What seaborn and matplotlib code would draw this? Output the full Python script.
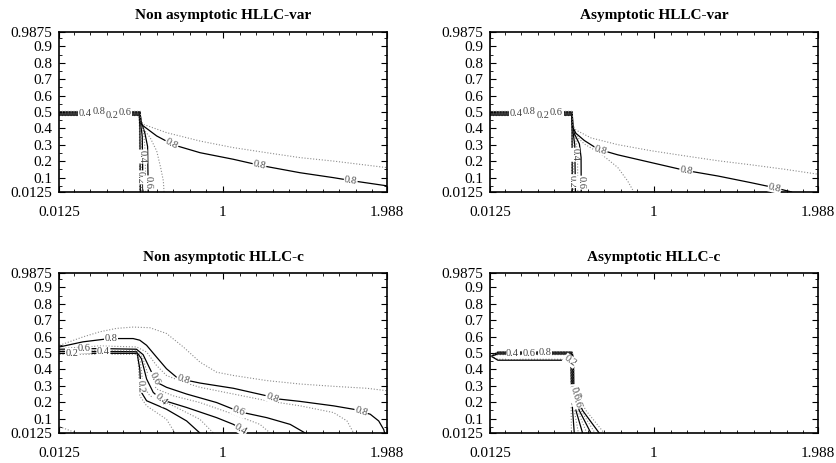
import numpy as np
import pandas as pd
import matplotlib
matplotlib.use("Agg")
import matplotlib.pyplot as plt
import seaborn as sns

titles = ["Non asymptotic HLLC-var", "Asymptotic HLLC-var",
          "Non asymptotic HLLC-c", "Asymptotic HLLC-c"]
x_ticks = [0.0125, 1, 1.988]
x_ticklabels = ["0.0125", "1", "1.988"]
y_ticks = [0.0125, 0.1, 0.2, 0.3, 0.4, 0.5, 0.6, 0.7, 0.8, 0.9, 0.9875]
y_ticklabels = ["0.0125", "0.1", "0.2", "0.3", "0.4", "0.5", "0.6", "0.7", "0.8", "0.9", "0.9875"]

# contour lines, (x, y) points per level
# Non asymptotic HLLC-var
nav = {
    0.1: [(0.0125, 0.478), (0.494, 0.478), (0.497, 0.40), (0.498, 0.0125)],
    0.2: [(0.0125, 0.481), (0.496, 0.481), (0.500, 0.40), (0.502, 0.0125)],
    0.3: [(0.0125, 0.485), (0.498, 0.485), (0.503, 0.42), (0.508, 0.30), (0.509, 0.0125)],
    0.4: [(0.0125, 0.488), (0.499, 0.488), (0.505, 0.43), (0.514, 0.35), (0.518, 0.0125)],
    0.5: [(0.0125, 0.492), (0.500, 0.492), (0.507, 0.43), (0.524, 0.36), (0.532, 0.25), (0.534, 0.0125)],
    0.6: [(0.0125, 0.495), (0.500, 0.495), (0.508, 0.44), (0.530, 0.37), (0.546, 0.29), (0.550, 0.0125)],
    0.7: [(0.0125, 0.498), (0.500, 0.498), (0.511, 0.41), (0.561, 0.345), (0.601, 0.262),
          (0.625, 0.160), (0.641, 0.080), (0.645, 0.0125)],
    0.8: [(0.0125, 0.501), (0.501, 0.501), (0.505, 0.45), (0.511, 0.422), (0.601, 0.354),
          (0.701, 0.300), (0.862, 0.252), (1.062, 0.212), (1.223, 0.175), (1.464, 0.130),
          (1.665, 0.100), (1.785, 0.080), (1.988, 0.050)],
    0.9: [(0.0125, 0.504), (0.502, 0.504), (0.506, 0.45), (0.520, 0.425), (0.661, 0.374),
          (0.862, 0.323), (1.062, 0.283), (1.263, 0.252), (1.464, 0.222), (1.665, 0.201),
          (1.988, 0.161)],
}
nav_labels = [(0.2, 0, 0.656), (0.2, 2, 0.77), (0.4, 0, 0.325), (0.4, 3, 0.36),
              (0.6, 0, 0.82), (0.6, 4, 0.79), (0.8, 0, 0.49), (0.8, 4, 0.9),
              (0.8, 7, 0.98), (0.8, 10, 0.87)]

# Asymptotic HLLC-var
av = {
    0.1: [(0.0125, 0.478), (0.503, 0.478), (0.505, 0.38), (0.505, 0.0125)],
    0.2: [(0.0125, 0.481), (0.504, 0.481), (0.507, 0.38), (0.508, 0.0125)],
    0.3: [(0.0125, 0.485), (0.505, 0.485), (0.509, 0.39), (0.514, 0.30), (0.516, 0.0125)],
    0.4: [(0.0125, 0.488), (0.506, 0.488), (0.511, 0.39), (0.523, 0.30), (0.527, 0.0125)],
    0.5: [(0.0125, 0.492), (0.507, 0.492), (0.513, 0.39), (0.533, 0.31), (0.540, 0.22), (0.541, 0.0125)],
    0.6: [(0.0125, 0.495), (0.507, 0.495), (0.515, 0.39), (0.521, 0.367), (0.551, 0.305),
          (0.561, 0.223), (0.562, 0.0125)],
    0.7: [(0.0125, 0.498), (0.508, 0.498), (0.511, 0.40), (0.540, 0.345), (0.581, 0.305),
          (0.682, 0.244), (0.782, 0.162), (0.842, 0.079), (0.879, 0.0125)],
    0.8: [(0.0125, 0.501), (0.508, 0.501), (0.510, 0.41), (0.530, 0.37), (0.581, 0.326),
          (0.662, 0.274), (0.782, 0.239), (0.983, 0.192), (1.184, 0.145), (1.385, 0.110),
          (1.586, 0.069), (1.707, 0.043), (1.830, 0.0125)],
    0.9: [(0.0125, 0.504), (0.509, 0.504), (0.511, 0.42), (0.530, 0.39), (0.621, 0.342),
          (0.782, 0.301), (0.983, 0.264), (1.184, 0.233), (1.385, 0.203), (1.586, 0.178),
          (1.787, 0.151), (1.988, 0.121)],
}
av_labels = [(0.2, 0, 0.645), (0.2, 2, 0.82), (0.4, 0, 0.32), (0.4, 3, 0.21),
             (0.6, 0, 0.81), (0.6, 5, 0.73), (0.8, 0, 0.48), (0.8, 5, 0.15),
             (0.8, 8, 0.05), (0.8, 11, 0.16)]

# Non asymptotic HLLC-c
nac = {
    0.1: [(0.016, 0.492), (0.487, 0.492), (0.495, 0.342), (0.499, 0.239), (0.540, 0.178),
          (0.660, 0.096), (0.711, 0.0125)],
    0.2: [(0.016, 0.498), (0.483, 0.498), (0.499, 0.404), (0.505, 0.281), (0.509, 0.260),
          (0.540, 0.209), (0.660, 0.157), (0.781, 0.086), (0.861, 0.0125)],
    0.3: [(0.016, 0.504), (0.479, 0.504), (0.503, 0.445), (0.519, 0.301), (0.560, 0.239),
          (0.701, 0.178), (0.861, 0.096), (0.942, 0.0125)],
    0.4: [(0.016, 0.510), (0.479, 0.508), (0.509, 0.465), (0.540, 0.342), (0.580, 0.260),
          (0.630, 0.215), (0.781, 0.168), (0.962, 0.106), (1.063, 0.065), (1.113, 0.034),
          (1.143, 0.0125)],
    0.5: [(0.016, 0.516), (0.479, 0.514), (0.515, 0.475), (0.550, 0.363), (0.600, 0.281),
          (0.701, 0.239), (0.861, 0.198), (1.063, 0.127), (1.223, 0.065), (1.284, 0.0125)],
    0.6: [(0.016, 0.523), (0.258, 0.527), (0.479, 0.523), (0.519, 0.490), (0.570, 0.383),
          (0.600, 0.322), (0.660, 0.291), (0.781, 0.250), (0.962, 0.198), (1.103, 0.141),
          (1.264, 0.106), (1.405, 0.065), (1.495, 0.0125)],
    0.7: [(0.016, 0.527), (0.258, 0.543), (0.479, 0.537), (0.540, 0.506), (0.600, 0.424),
          (0.660, 0.363), (0.761, 0.322), (0.861, 0.291), (1.063, 0.250), (1.264, 0.209),
          (1.465, 0.178), (1.666, 0.137), (1.747, 0.086), (1.787, 0.0125)],
    0.8: [(0.016, 0.537), (0.157, 0.568), (0.318, 0.588), (0.459, 0.588), (0.499, 0.578),
          (0.540, 0.547), (0.600, 0.475), (0.660, 0.404), (0.721, 0.352), (0.771, 0.336),
          (0.861, 0.317), (1.063, 0.285), (1.264, 0.239), (1.304, 0.223), (1.465, 0.205),
          (1.666, 0.178), (1.787, 0.157), (1.837, 0.141), (1.887, 0.127), (1.938, 0.086),
          (1.968, 0.034), (1.974, 0.0125)],
    0.9: [(0.016, 0.547), (0.157, 0.598), (0.258, 0.629), (0.358, 0.650), (0.459, 0.658),
          (0.560, 0.654), (0.660, 0.619), (0.761, 0.537), (0.861, 0.445), (0.962, 0.383),
          (1.063, 0.363), (1.264, 0.332), (1.465, 0.311), (1.666, 0.297), (1.867, 0.285),
          (1.988, 0.270)],
    0.95: [(0.016, 0.051), (0.117, 0.0125)],
}
nac_labels = [(0.2, 0, 0.16), (0.2, 2, 0.85), (0.4, 0, 0.57), (0.4, 4, 0.9), (0.4, 8, 0.9),
              (0.6, 0, 0.62), (0.6, 4, 0.6), (0.6, 8, 0.95), (0.8, 2, 0.05), (0.8, 8, 0.8),
              (0.8, 12, 0.8), (0.8, 16, 0.9)]

# Asymptotic HLLC-c
ac = {
    0.1: [(0.02, 0.48), (0.06, 0.462), (0.490, 0.462), (0.497, 0.455), (0.500, 0.28), (0.503, 0.0125)],
    0.2: [(0.02, 0.48), (0.06, 0.456), (0.492, 0.456), (0.500, 0.45), (0.503, 0.28), (0.510, 0.15), (0.520, 0.0125)],
    0.3: [(0.02, 0.48), (0.06, 0.490), (0.500, 0.490), (0.504, 0.47), (0.506, 0.28), (0.520, 0.15), (0.545, 0.0125)],
    0.4: [(0.02, 0.48), (0.06, 0.494), (0.502, 0.494), (0.507, 0.47), (0.509, 0.28), (0.530, 0.15), (0.570, 0.0125)],
    0.5: [(0.02, 0.48), (0.06, 0.497), (0.503, 0.497), (0.509, 0.47), (0.511, 0.28), (0.540, 0.15), (0.595, 0.0125)],
    0.6: [(0.02, 0.48), (0.06, 0.500), (0.504, 0.500), (0.511, 0.47), (0.513, 0.28), (0.550, 0.15), (0.620, 0.0125)],
    0.7: [(0.02, 0.48), (0.06, 0.503), (0.505, 0.503), (0.513, 0.47), (0.515, 0.28), (0.560, 0.15), (0.645, 0.0125)],
    0.8: [(0.02, 0.48), (0.06, 0.506), (0.506, 0.506), (0.515, 0.47), (0.518, 0.28), (0.570, 0.15), (0.670, 0.0125)],
    0.9: [(0.02, 0.48), (0.06, 0.509), (0.507, 0.509), (0.517, 0.47), (0.521, 0.28), (0.590, 0.15), (0.700, 0.0125)],
}
ac_labels = [(0.2, 2, 0.53), (0.2, 4, 0.5), (0.4, 1, 0.2), (0.4, 4, 0.3), (0.6, 1, 0.42),
             (0.6, 4, 0.6), (0.8, 1, 0.64), (0.8, 4, 0.2), (0.2, 4, 0.1), (0.6, 4, 0.2)]

panels = [(nav, nav_labels), (av, av_labels), (nac, nac_labels), (ac, ac_labels)]

sns.set_theme(style="ticks")
plt.rcParams["font.family"] = ["Liberation Serif", "DejaVu Serif"]

fig = plt.figure(figsize=(8.36, 4.63), dpi=100)
W, H = 836, 463
corners = [(59, 32), (490, 32), (59, 273), (490, 273)]

for (lines, labels), title, (lx, ty) in zip(panels, titles, corners):
    ax = fig.add_axes([lx / W, 1 - (ty + 160) / H, 328 / W, 160 / H])
    ax.set_xlim(0.0125, 1.988)
    ax.set_ylim(0.0125, 0.9875)
    for level, pts in lines.items():
        df = pd.DataFrame(pts, columns=["x", "y"])
        dotted = round(level * 10) % 2 == 1 or level > 0.9
        sns.lineplot(data=df, x="x", y="y", sort=False, estimator=None, ax=ax,
                     color="#8c8c8c" if dotted else "black",
                     lw=0.8 if dotted else 0.9,
                     linestyle=(0, (1, 1.6)) if dotted else "-", legend=False)
    for level, seg, t in labels:
        p0 = np.array(lines[level][seg])
        p1 = np.array(lines[level][seg + 1])
        pos = p0 + t * (p1 - p0)
        d0, d1 = ax.transData.transform([p0, p1])
        ang = np.degrees(np.arctan2(d1[1] - d0[1], d1[0] - d0[0]))
        if ang > 90:
            ang -= 180
        elif ang < -90:
            ang += 180
        ax.text(pos[0], pos[1], f"{level:.1f}", fontsize=7.5, color="#444444",
                rotation=ang, rotation_mode="anchor", ha="center", va="center",
                bbox=dict(boxstyle="square,pad=0.05", fc="white", ec="none"), zorder=3)
    ax.set_xlabel("")
    ax.set_ylabel("")
    ax.set_xticks(x_ticks)
    ax.set_xticklabels(x_ticklabels)
    ax.set_yticks(y_ticks)
    ax.set_yticklabels(y_ticklabels)
    ax.set_xticks(np.arange(0.1, 1.95, 0.1), minor=True)
    ax.set_yticks(np.arange(0.05, 0.96, 0.05), minor=True)
    ax.tick_params(which="both", direction="in", top=True, right=True, color="black")
    ax.tick_params(which="major", length=4, width=0.8, labelsize=11, labelcolor="black")
    ax.tick_params(axis="x", which="major", pad=10)
    ax.tick_params(axis="y", which="major", pad=5)
    ax.tick_params(which="minor", length=2, width=0.6)
    for sp in ax.spines.values():
        sp.set_color("black")
        sp.set_linewidth(1.2)
    ax.set_title(title, fontsize=11, fontweight="bold", pad=9, color="black")

fig.savefig("out.png", dpi=100)
